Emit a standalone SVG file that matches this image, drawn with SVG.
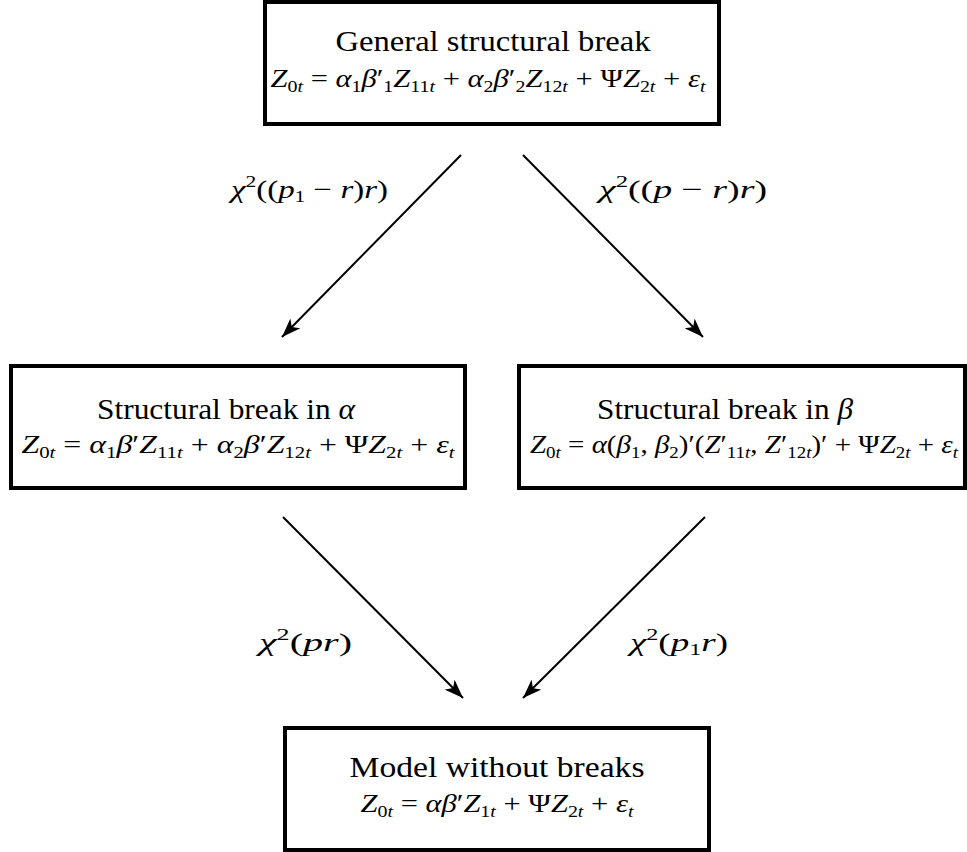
<svg xmlns="http://www.w3.org/2000/svg" width="967" height="852" viewBox="0 0 967 852">
<style>
.box{fill:#fff;stroke:#000;stroke-width:4}
.t{font-family:"Liberation Serif",serif;font-size:30px;fill:#000}
.m{font-family:"Liberation Serif",serif;font-size:26px;fill:#000}
.i{font-style:italic}
.s{font-size:17px}
.c{stroke:#000;stroke-width:2;fill:none}
</style>
<defs>
<marker id="ah" markerUnits="userSpaceOnUse" markerWidth="20" markerHeight="14" viewBox="0 0 20 14" refX="19" refY="7" orient="auto">
<path d="M0,0 L19,7 L0,14 L5,7 Z" fill="#000"/>
</marker>
</defs>
<rect width="967" height="852" fill="#fff"/>
<g id="connectors">
<line class="c" x1="461" y1="155" x2="282" y2="337" marker-end="url(#ah)"/>
<line class="c" x1="523" y1="155" x2="703" y2="337" marker-end="url(#ah)"/>
<line class="c" x1="283" y1="517" x2="463" y2="698" marker-end="url(#ah)"/>
<line class="c" x1="705" y1="517" x2="523" y2="698" marker-end="url(#ah)"/>
<text class="m" x="231" y="198" textLength="157" lengthAdjust="spacingAndGlyphs"><tspan class="i">χ</tspan><tspan class="s" dy="-11">2</tspan><tspan dy="11">((</tspan><tspan class="i">p</tspan><tspan class="s" dy="4">1</tspan><tspan dy="-4"> − </tspan><tspan class="i">r</tspan><tspan>)</tspan><tspan class="i">r</tspan><tspan>)</tspan></text>
<text class="m" x="599" y="198" textLength="168" lengthAdjust="spacingAndGlyphs"><tspan class="i">χ</tspan><tspan class="s" dy="-11">2</tspan><tspan dy="11">((</tspan><tspan class="i">p</tspan><tspan> − </tspan><tspan class="i">r</tspan><tspan>)</tspan><tspan class="i">r</tspan><tspan>)</tspan></text>
<text class="m" x="259" y="651" textLength="93" lengthAdjust="spacingAndGlyphs"><tspan class="i">χ</tspan><tspan class="s" dy="-11">2</tspan><tspan dy="11">(</tspan><tspan class="i">pr</tspan><tspan>)</tspan></text>
<text class="m" x="630" y="651" textLength="98" lengthAdjust="spacingAndGlyphs"><tspan class="i">χ</tspan><tspan class="s" dy="-11">2</tspan><tspan dy="11">(</tspan><tspan class="i">p</tspan><tspan class="s" dy="4">1</tspan><tspan class="i" dy="-4">r</tspan><tspan>)</tspan></text>
</g>
<g id="node-general">
<rect class="box" x="265" y="2" width="454" height="122"/>
<text class="t" x="493" y="51" text-anchor="middle" textLength="315" lengthAdjust="spacingAndGlyphs">General structural break</text>
<text class="m" x="488" y="87" text-anchor="middle" textLength="435" lengthAdjust="spacingAndGlyphs"><tspan class="i">Z</tspan><tspan class="s" dy="5">0</tspan><tspan class="s i">t</tspan><tspan dy="-5"> = </tspan><tspan class="i">α</tspan><tspan class="s" dy="5">1</tspan><tspan class="i" dy="-5">β</tspan><tspan>′</tspan><tspan class="s" dy="5">1</tspan><tspan class="i" dy="-5">Z</tspan><tspan class="s" dy="5">11</tspan><tspan class="s i">t</tspan><tspan dy="-5"> + </tspan><tspan class="i">α</tspan><tspan class="s" dy="5">2</tspan><tspan class="i" dy="-5">β</tspan><tspan>′</tspan><tspan class="s" dy="5">2</tspan><tspan class="i" dy="-5">Z</tspan><tspan class="s" dy="5">12</tspan><tspan class="s i">t</tspan><tspan dy="-5"> + Ψ</tspan><tspan class="i">Z</tspan><tspan class="s" dy="5">2</tspan><tspan class="s i">t</tspan><tspan dy="-5"> + </tspan><tspan class="i">ε</tspan><tspan class="s i" dy="5">t</tspan></text>
</g>
<g id="node-alpha">
<rect class="box" x="11" y="366" width="454" height="122"/>
<text class="t" x="226" y="419" text-anchor="middle" textLength="258" lengthAdjust="spacingAndGlyphs">Structural break in <tspan class="i">α</tspan></text>
<text class="m" x="238" y="453" text-anchor="middle" textLength="433" lengthAdjust="spacingAndGlyphs"><tspan class="i">Z</tspan><tspan class="s" dy="5">0</tspan><tspan class="s i">t</tspan><tspan dy="-5"> = </tspan><tspan class="i">α</tspan><tspan class="s" dy="5">1</tspan><tspan class="i" dy="-5">β</tspan><tspan>′</tspan><tspan class="i">Z</tspan><tspan class="s" dy="5">11</tspan><tspan class="s i">t</tspan><tspan dy="-5"> + </tspan><tspan class="i">α</tspan><tspan class="s" dy="5">2</tspan><tspan class="i" dy="-5">β</tspan><tspan>′</tspan><tspan class="i">Z</tspan><tspan class="s" dy="5">12</tspan><tspan class="s i">t</tspan><tspan dy="-5"> + Ψ</tspan><tspan class="i">Z</tspan><tspan class="s" dy="5">2</tspan><tspan class="s i">t</tspan><tspan dy="-5"> + </tspan><tspan class="i">ε</tspan><tspan class="s i" dy="5">t</tspan></text>
</g>
<g id="node-beta">
<rect class="box" x="519" y="366" width="446" height="122"/>
<text class="t" x="725" y="419" text-anchor="middle" textLength="256" lengthAdjust="spacingAndGlyphs">Structural break in <tspan class="i">β</tspan></text>
<text class="m" x="744" y="453" text-anchor="middle" textLength="428" lengthAdjust="spacingAndGlyphs"><tspan class="i">Z</tspan><tspan class="s" dy="5">0</tspan><tspan class="s i">t</tspan><tspan dy="-5"> = </tspan><tspan class="i">α</tspan><tspan>(</tspan><tspan class="i">β</tspan><tspan class="s" dy="5">1</tspan><tspan dy="-5">, </tspan><tspan class="i">β</tspan><tspan class="s" dy="5">2</tspan><tspan dy="-5">)′(</tspan><tspan class="i">Z</tspan><tspan>′</tspan><tspan class="s" dy="5">11</tspan><tspan class="s i">t</tspan><tspan dy="-5">, </tspan><tspan class="i">Z</tspan><tspan>′</tspan><tspan class="s" dy="5">12</tspan><tspan class="s i">t</tspan><tspan dy="-5">)′ + Ψ</tspan><tspan class="i">Z</tspan><tspan class="s" dy="5">2</tspan><tspan class="s i">t</tspan><tspan dy="-5"> + </tspan><tspan class="i">ε</tspan><tspan class="s i" dy="5">t</tspan></text>
</g>
<g id="node-nobreak">
<rect class="box" x="285" y="728" width="424" height="122"/>
<text class="t" x="497" y="777" text-anchor="middle" textLength="295" lengthAdjust="spacingAndGlyphs">Model without breaks</text>
<text class="m" x="497" y="812" text-anchor="middle" textLength="273" lengthAdjust="spacingAndGlyphs"><tspan class="i">Z</tspan><tspan class="s" dy="5">0</tspan><tspan class="s i">t</tspan><tspan dy="-5"> = </tspan><tspan class="i">αβ</tspan><tspan>′</tspan><tspan class="i">Z</tspan><tspan class="s" dy="5">1</tspan><tspan class="s i">t</tspan><tspan dy="-5"> + Ψ</tspan><tspan class="i">Z</tspan><tspan class="s" dy="5">2</tspan><tspan class="s i">t</tspan><tspan dy="-5"> + </tspan><tspan class="i">ε</tspan><tspan class="s i" dy="5">t</tspan></text>
</g>
</svg>
